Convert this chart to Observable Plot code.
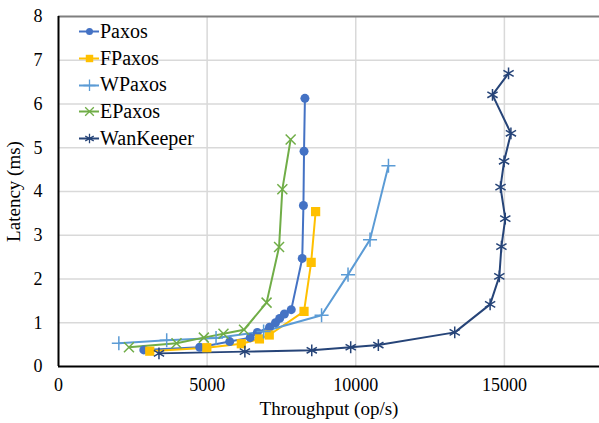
<!DOCTYPE html>
<html>
<head>
<meta charset="utf-8">
<script src="https://cdn.jsdelivr.net/npm/d3@7"></script>
<script src="https://cdn.jsdelivr.net/npm/@observablehq/plot@0.6"></script>
<style>
  html, body { margin: 0; padding: 0; background: #fff; }
  #wrap { position: relative; width: 599px; height: 423px; font-family: "Liberation Serif", Tinos, "Times New Roman", Times, "DejaVu Serif", serif; }
  #legend { position: absolute; left: 79px; top: 18px; font-size: 20px; color: #000; }
  #legend .row { display: flex; align-items: center; height: 26.7px; }
  #legend svg { margin-right: 1px; }
</style>
</head>
<body>
<div id="wrap"><div id="chart"></div><div id="legend"></div></div>
<script>
const seriesNames = ["Paxos", "FPaxos", "WPaxos", "EPaxos", "WanKeeper"];
const seriesColors = ["#4472C4", "#FFC000", "#5B9BD5", "#70AD47", "#264478"];
const seriesSymbols = ["circle", "square", "plus", "times", "asterisk"];

const paxosX = [2870, 4750, 5760, 6450, 6690, 7100, 7300, 7440, 7600, 7830, 8200, 8240, 8260, 8290];
const paxosY = [0.38, 0.44, 0.57, 0.66, 0.78, 0.90, 1.00, 1.10, 1.20, 1.30, 2.47, 3.68, 4.92, 6.13];

const fpaxosX = [3070, 4990, 6150, 6760, 7090, 8260, 8500, 8650];
const fpaxosY = [0.35, 0.43, 0.52, 0.63, 0.72, 1.26, 2.38, 3.54];

const wpaxosX = [2030, 3640, 5300, 6900, 8850, 9740, 10480, 11100];
const wpaxosY = [0.53, 0.60, 0.65, 0.80, 1.17, 2.10, 2.90, 4.59];

const epaxosX = [2370, 3970, 4890, 5550, 6240, 7000, 7420, 7530, 7810];
const epaxosY = [0.44, 0.53, 0.66, 0.75, 0.84, 1.46, 2.73, 4.05, 5.19];

const wankeeperX = [3380, 6270, 8520, 9830, 10760, 13330, 14520, 14830, 14900, 15030, 14870, 14990, 15220, 14600, 15140];
const wankeeperY = [0.30, 0.34, 0.37, 0.44, 0.49, 0.78, 1.42, 2.06, 2.74, 3.38, 4.10, 4.69, 5.33, 6.21, 6.70];

const xTicks = [0, 5000, 10000, 15000];
const yTicks = [0, 1, 2, 3, 4, 5, 6, 7, 8];

const FONT = "'Liberation Serif', Tinos, 'Times New Roman', Times, 'DejaVu Serif', serif";

const xsAll = [paxosX, fpaxosX, wpaxosX, epaxosX, wankeeperX];
const ysAll = [paxosY, fpaxosY, wpaxosY, epaxosY, wankeeperY];

const series = seriesNames.map((name, i) =>
  xsAll[i].map((x, j) => ({series: name, x, y: ysAll[i][j], order: j}))
);

const filled = s => s === "circle" || s === "square";
const markerR = {circle: 4.5, square: 5.2, plus: 4.6, times: 4.6, asterisk: 5.6};

const marks = [
  Plot.ruleY(yTicks.filter(d => d > 0 && d < 8), {stroke: "#d9d9d9", strokeWidth: 1.5}),
  Plot.ruleX(xTicks.filter(d => d > 0), {stroke: "#d9d9d9", strokeWidth: 1.5}),
  Plot.ruleY([8], {stroke: "#7f7f7f", strokeWidth: 2}),
];
series.forEach((data, i) => {
  marks.push(Plot.line(data, {x: "x", y: "y", stroke: seriesColors[i], strokeWidth: 2, curve: "linear"}));
});
series.forEach((data, i) => {
  const sym = seriesSymbols[i];
  const r = markerR[sym];
  marks.push(Plot.dot(data, filled(sym)
    ? {x: "x", y: "y", symbol: () => sym, r, fill: seriesColors[i], stroke: "none"}
    : {x: "x", y: "y", symbol: () => sym, r, stroke: seriesColors[i], strokeWidth: 1.5, fill: "none"}));
});
marks.push(Plot.ruleX([0], {stroke: "#000", strokeWidth: 2}));
marks.push(Plot.ruleY([0], {stroke: "#000", strokeWidth: 2}));
marks.push(Plot.axisX(xTicks, {tickSize: 0, tickPadding: 12, fontSize: 18, tickFormat: d3.format("d"), label: "Throughput (op/s)", labelAnchor: "center", labelArrow: "none", labelOffset: 48}));
marks.push(Plot.axisY(yTicks, {tickSize: 0, tickPadding: 16, fontSize: 18, tickFormat: d3.format("d"), label: "Latency (ms)", labelAnchor: "center", labelArrow: "none", labelOffset: 52}));

const chart = Plot.plot({
  width: 599,
  height: 423,
  marginLeft: 58,
  marginRight: 0,
  marginTop: 16,
  marginBottom: 57,
  style: {fontFamily: FONT, fontSize: "18px", color: "#000", background: "#fff"},
  x: {domain: [0, 18200]},
  y: {domain: [0, 8]},
  symbol: {type: "identity"},
  marks
});
chart.setAttribute("font-family", FONT);
chart.style.fontFamily = FONT;
chart.querySelectorAll("text").forEach(t => t.style.fontFamily = FONT);
document.getElementById("chart").appendChild(chart);

chart.querySelectorAll("[aria-label='x-axis label'] text, [aria-label='y-axis label'] text").forEach(t => t.setAttribute("font-size", 19));

// legend
const legend = document.getElementById("legend");
seriesNames.forEach((name, i) => {
  const row = document.createElement("div");
  row.className = "row";
  const sym = seriesSymbols[i];
  const sw = Plot.plot({
    width: 20, height: 12, margin: 0,
    x: {domain: [0, 1], axis: null}, y: {domain: [0, 1], axis: null},
    symbol: {type: "identity"},
    marks: [
      Plot.ruleY([0.5], {x1: 0, x2: 1, stroke: seriesColors[i], strokeWidth: 2}),
      Plot.dot([{x: 0.5, y: 0.5}], filled(sym)
        ? {x: "x", y: "y", symbol: () => sym, r: sym === "circle" ? 3.5 : 4.2, fill: seriesColors[i], stroke: "none"}
        : {x: "x", y: "y", symbol: () => sym, r: sym === "asterisk" ? 4.6 : 4.0, stroke: seriesColors[i], strokeWidth: 1.3, fill: "none"})
    ]
  });
  row.appendChild(sw);
  const span = document.createElement("span");
  span.textContent = name;
  span.style.fontFamily = FONT;
  row.appendChild(span);
  legend.appendChild(row);
});
</script>
</body>
</html>
